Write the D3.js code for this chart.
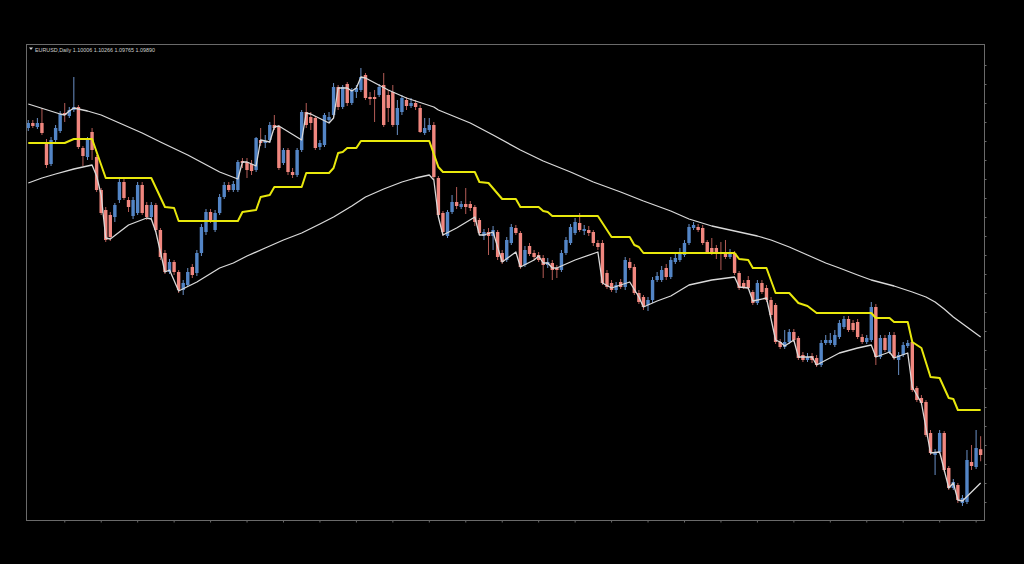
<!DOCTYPE html>
<html><head><meta charset="utf-8">
<script src="https://cdn.jsdelivr.net/npm/d3@7"></script>
<style>html,body{margin:0;padding:0;background:#000;}svg{display:block;}</style>
</head><body><svg id="c" width="1024" height="564"></svg>
<script>
const symbol = "EURUSD,Daily";
const lastQuote = ["1.10006", "1.10266", "1.09765", "1.09890"];

const open = [
1.1643,1.1653,1.1645,1.1653,1.1615,1.1571,1.1619,1.1637,1.1673,1.1667,
1.1679,
1.1685,1.1603,1.1585,1.1635,1.1585,1.1519,1.1479,1.1469,1.1465,1.1499,
1.1535,1.1499,1.1467,1.1473,1.1529,1.1489,1.1465,1.1489,1.1439,1.1393,
1.1355,1.1375,1.1355,1.1319,1.1329,1.1365,1.1353,1.1393,1.1435,1.1475,
1.1439,1.1473,1.1505,1.1529,1.1519,1.1519,1.1577,1.1575,1.1571,1.1559,
1.1619,1.1613,1.1619,1.1649,1.1645,1.1573,1.1599,1.1555,1.1549,1.1599,
1.1675,1.1665,1.1663,1.1605,1.1609,1.1659,1.1669,1.1725,1.1685,1.1731,
1.1693,1.1715,1.1719,1.1749,1.1705,1.1705,1.1709,1.1729,1.1709,1.1715,
1.1649,1.1675,1.1699,1.1687,1.1693,1.1683,1.1633,1.1639,1.1649,1.1543,
1.1473,1.1427,1.1475,1.1495,1.1485,1.1491,1.1491,1.1485,1.1459,1.1427,
1.1435,1.1427,1.1435,1.1393,1.1379,1.1413,1.1443,1.1433,1.1369,1.1407,
1.1393,1.1389,1.1383,1.1369,1.1373,1.1363,1.1359,1.1393,1.1413,1.1433,
1.1453,1.1437,1.1439,1.1435,1.1413,1.1413,1.1353,1.1333,1.1319,1.1335,
1.1325,1.1375,1.1365,1.1313,1.1305,1.1289,1.1299,1.1339,1.1339,1.1363,
1.1345,1.1375,1.1379,1.1389,1.1413,1.1443,1.1445,1.1443,1.1415,1.1403,
1.1403,1.1395,1.1395,1.1385,1.1393,1.1353,1.1333,1.1339,1.1315,1.1293,
1.1333,1.1323,1.1299,1.1289,1.1215,1.1205,1.1215,1.1235,1.1223,1.1189,
1.1179,1.1187,1.1183,1.1169,1.1213,1.1213,1.1209,1.1225,1.1245,1.1261,
1.1253,1.1255,1.1225,1.1215,1.1219,1.1285,1.1185,1.1223,1.1195,1.1229,
1.1179,1.1189,1.1207,1.1215,1.1123,1.1103,1.1095,1.1033,1.0989,1.0995,
1.1033,1.0963,1.0923,1.0929,1.0893,1.0895,1.0975,1.0965,
1.10006];
const close = [
1.1653,1.1647,1.1653,1.1633,1.1569,1.1619,1.1643,1.1671,1.1669,1.1679,
1.1685,
1.1605,1.1587,1.1619,1.1599,1.1519,1.1473,1.1419,1.1425,1.1489,1.1535,
1.1503,1.1485,1.1499,1.1529,1.1473,1.1465,1.1489,1.1439,1.1385,1.1355,
1.1375,1.1355,1.1319,1.1333,1.1355,1.1349,1.1393,1.1445,1.1475,1.1459,
1.1473,1.1505,1.1529,1.1519,1.1531,1.1575,1.1573,1.1559,1.1557,1.1623,
1.1613,1.1617,1.1649,1.1643,1.1563,1.1599,1.1555,1.1549,1.1599,1.1675,
1.1649,1.1653,1.1603,1.1613,1.1669,1.1665,1.1725,1.1685,1.1725,1.1693,
1.1719,1.1723,1.1745,1.1703,1.1701,1.1701,1.1725,1.1649,1.1683,1.1649,
1.1683,1.1703,1.1687,1.1693,1.1685,1.1635,1.1643,1.1649,1.1545,1.1469,
1.1435,1.1475,1.1495,1.1487,1.1491,1.1485,1.1483,1.1455,1.1433,1.1435,
1.1427,1.1439,1.1385,1.1375,1.1419,1.1445,1.1433,1.1365,1.1399,1.1391,
1.1385,1.1379,1.1369,1.1375,1.1359,1.1359,1.1393,1.1419,1.1445,1.1455,
1.1439,1.1441,1.1433,1.1413,1.1405,1.1333,1.1325,1.1319,1.1329,1.1325,
1.1379,1.1363,1.1313,1.1295,1.1285,1.1299,1.1339,1.1347,1.1359,1.1345,
1.1379,1.1383,1.1393,1.1413,1.1445,1.1449,1.1439,1.1413,1.1395,1.1393,
1.1395,1.1391,1.1385,1.1395,1.1353,1.1323,1.1325,1.1323,1.1293,1.1333,
1.1315,1.1299,1.1269,1.1215,1.1205,1.1215,1.1235,1.1219,1.1183,1.1179,
1.1185,1.1179,1.1169,1.1213,1.1219,1.1219,1.1229,1.1253,1.1261,1.1239,
1.1239,1.1225,1.1215,1.1223,1.1285,1.1185,1.1223,1.1199,1.1229,1.1183,
1.1189,1.1209,1.1213,1.1119,1.1099,1.1093,1.1029,1.0993,1.0995,1.1033,
1.0959,1.0923,1.0935,1.0899,1.0903,1.0979,1.0967,1.1003,
1.09890];
const high = [
1.1659,1.1659,1.1663,1.1683,1.1621,1.1625,1.1649,1.1677,1.1693,1.1685,
1.1745,
1.1689,1.1607,1.1625,1.1643,1.1589,1.1523,1.1485,1.1475,1.1493,1.1541,
1.1541,1.1505,1.1505,1.1535,1.1535,1.1495,1.1495,1.1493,1.1443,1.1399,
1.1381,1.1379,1.1359,1.1339,1.1363,1.1371,1.1399,1.1451,1.1481,1.1481,
1.1479,1.1511,1.1535,1.1535,1.1537,1.1579,1.1583,1.1583,1.1579,1.1625,
1.1643,1.1629,1.1655,1.1669,1.1649,1.1603,1.1603,1.1563,1.1603,1.1679,
1.1693,1.1675,1.1667,1.1619,1.1673,1.1675,1.1733,1.1729,1.1729,1.1735,
1.1723,1.1729,1.1763,1.1753,1.1715,1.1719,1.1731,1.1753,1.1719,1.1729,
1.1699,1.1709,1.1705,1.1703,1.1699,1.1689,1.1663,1.1663,1.1655,1.1547,
1.1477,1.1479,1.1509,1.1525,1.1497,1.1523,1.1497,1.1489,1.1463,1.1441,
1.1443,1.1447,1.1439,1.1399,1.1425,1.1451,1.1449,1.1437,1.1407,1.1413,
1.1399,1.1395,1.1389,1.1383,1.1379,1.1369,1.1399,1.1425,1.1451,1.1463,
1.1473,1.1449,1.1447,1.1439,1.1419,1.1419,1.1359,1.1339,1.1335,1.1341,
1.1385,1.1383,1.1371,1.1319,1.1309,1.1305,1.1345,1.1355,1.1367,1.1371,
1.1385,1.1395,1.1403,1.1419,1.1451,1.1455,1.1451,1.1449,1.1419,1.1423,
1.1409,1.1415,1.1419,1.1401,1.1397,1.1357,1.1339,1.1347,1.1319,1.1339,
1.1339,1.1329,1.1305,1.1293,1.1221,1.1239,1.1241,1.1241,1.1227,1.1195,
1.1193,1.1193,1.1189,1.1219,1.1229,1.1233,1.1239,1.1259,1.1267,1.1267,
1.1259,1.1261,1.1231,1.1229,1.1295,1.1291,1.1229,1.1229,1.1235,1.1235,
1.1195,1.1215,1.1219,1.1219,1.1127,1.1109,1.1099,1.1039,1.1001,1.1039,
1.1037,1.0967,1.0941,1.0933,1.0909,1.0999,1.1009,1.1039,
1.10266];
const low = [
1.1637,1.1643,1.1641,1.1629,1.1563,1.1567,1.1615,1.1633,1.1655,1.1663,
1.1675,
1.1601,1.1567,1.1579,1.1579,1.1515,1.1469,1.1415,1.1417,1.1455,1.1493,
1.1499,1.1475,1.1461,1.1469,1.1469,1.1459,1.1459,1.1435,1.1379,1.1351,
1.1351,1.1349,1.1313,1.1309,1.1325,1.1343,1.1347,1.1387,1.1429,1.1453,
1.1435,1.1469,1.1501,1.1515,1.1515,1.1515,1.1563,1.1543,1.1549,1.1555,
1.1607,1.1603,1.1613,1.1639,1.1559,1.1569,1.1549,1.1543,1.1545,1.1595,
1.1643,1.1639,1.1599,1.1599,1.1605,1.1655,1.1665,1.1679,1.1681,1.1687,
1.1689,1.1703,1.1715,1.1699,1.1689,1.1655,1.1705,1.1645,1.1655,1.1645,
1.1629,1.1669,1.1679,1.1683,1.1679,1.1633,1.1629,1.1635,1.1539,1.1465,
1.1427,1.1423,1.1471,1.1481,1.1481,1.1471,1.1477,1.1447,1.1429,1.1419,
1.1389,1.1399,1.1379,1.1371,1.1375,1.1409,1.1429,1.1361,1.1365,1.1387,
1.1379,1.1375,1.1343,1.1363,1.1339,1.1343,1.1355,1.1389,1.1409,1.1429,
1.1435,1.1429,1.1427,1.1407,1.1399,1.1329,1.1321,1.1315,1.1313,1.1321,
1.1319,1.1359,1.1309,1.1291,1.1279,1.1277,1.1293,1.1335,1.1335,1.1339,
1.1341,1.1371,1.1375,1.1385,1.1409,1.1439,1.1435,1.1409,1.1391,1.1389,
1.1381,1.1359,1.1381,1.1381,1.1349,1.1319,1.1321,1.1319,1.1289,1.1289,
1.1311,1.1295,1.1265,1.1211,1.1201,1.1201,1.1211,1.1215,1.1179,1.1175,
1.1175,1.1173,1.1165,1.1165,1.1209,1.1209,1.1205,1.1221,1.1241,1.1235,
1.1235,1.1221,1.1211,1.1211,1.1215,1.1169,1.1181,1.1195,1.1191,1.1179,
1.1149,1.1185,1.1203,1.1115,1.1095,1.1089,1.1025,1.0989,1.0949,1.0991,
1.0955,1.0919,1.0919,1.0893,1.0887,1.0891,1.0959,1.0961,
1.09765];

// indicator lines: [bar index, price]
const midLine = [
[0,1.1613],[8,1.1613],[10,1.1621],[14,1.1621],[17,1.1543],[27,1.1543],[30,1.1485],[32,1.1483],
[33,1.1457],[46,1.1457],[47,1.1475],[50,1.1479],[51,1.1505],[53,1.1509],[54,1.1525],[60,1.1525],
[61,1.1553],[66,1.1553],[67,1.1563],[68,1.1593],[69,1.1595],[70,1.1603],[72,1.1603],[73,1.1617],
[88,1.1617],[90,1.1565],[91,1.1555],[98,1.1555],[99,1.1535],[101,1.1533],[104,1.1501],[107,1.1501],
[108,1.1485],[112,1.1485],[113,1.1477],[114,1.1475],[115,1.1467],[125,1.1467],[128,1.1425],[132,1.1425],
[133,1.1409],[134,1.1405],[135,1.1393],[155,1.1393],[156,1.1381],[158,1.1379],[159,1.1363],[162,1.1363],
[164,1.1313],[167,1.1313],[169,1.1293],[171,1.1287],[173,1.1273],[185,1.1273],[186,1.1263],[189,1.1263],
[190,1.1255],[193,1.1255],[194,1.1215],[196,1.1203],[198,1.1145],[200,1.1143],[202,1.1103],[203,1.1101],
[204,1.1079],[209,1.1079]];
const upperLine = [
[0,1.1691],[7,1.1671],[8,1.1669],[9,1.1677],[10,1.1683],[13,1.1677],[16,1.1669],[20,1.1653],[25,1.1633],[29,1.1615],
[35,1.1589],[42,1.1555],[46,1.1541],[47,1.1575],[48,1.1575],[50,1.1567],[51,1.1619],[53,1.1615],
[54,1.1645],[55,1.1647],[60,1.1619],[61,1.1673],[62,1.1671],[66,1.1653],[67,1.1663],[68,1.1723],
[70,1.1723],[71,1.1717],[72,1.1723],[73,1.1745],[74,1.1743],[79,1.1719],[83,1.1703],[89,1.1685],
[90,1.1679],[97,1.1653],[102,1.1629],[108,1.1599],[113,1.1577],[119,1.1555],[124,1.1535],[130,1.1515],[135,1.1497],[141,1.1477],[145,1.1461],[150,1.1447],[156,1.1435],
[160,1.1427],[163,1.1419],[167,1.1405],[171,1.1389],[175,1.1373],[178,1.1363],[182,1.1349],[185,1.1339],[190,1.1327],[194,1.1315],[197,1.1305],[199,1.1295],[201,1.1281],[203,1.1265],[206,1.1245],[209,1.1225]];
const lowerLine = [
[0,1.1533],[3,1.1543],[6,1.1551],[10,1.1561],[14,1.1569],[15,1.1547],[16,1.1509],[17,1.1423],[18,1.1421],[22,1.1449],
[26,1.1463],[27,1.1461],[28,1.1435],[30,1.1355],[31,1.1359],[33,1.1317],[37,1.1335],[42,1.1363],
[45,1.1373],[48,1.1387],[52,1.1403],[56,1.1419],[60,1.1433],[64,1.1451],[67,1.1465],[71,1.1487],[74,1.1505],[78,1.1521],[82,1.1535],[85,1.1543],[88,1.1549],[89,1.1539],
[90,1.1465],[91,1.1429],[94,1.1443],[98,1.1465],[99,1.1429],[100,1.1429],[102,1.1435],[104,1.1375],[107,1.1395],
[108,1.1365],[111,1.1379],[112,1.1387],[113,1.1373],[114,1.1373],[115,1.1363],[116,1.1363],[120,1.1379],[125,1.1395],
[126,1.1333],[128,1.1323],[130,1.1329],[132,1.1335],[134,1.1305],[135,1.1285],[138,1.1297],[141,1.1307],[145,1.1329],[150,1.1339],
[155,1.1345],[156,1.1325],[158,1.1323],[159,1.1297],[162,1.1303],[164,1.1219],[165,1.1215],[166,1.1207],
[168,1.1219],[169,1.1185],[172,1.1185],[173,1.1169],[178,1.1193],[182,1.1203],[185,1.1209],[186,1.1185],[189,1.1195],
[190,1.1183],[193,1.1193],[194,1.1125],[196,1.1093],[198,1.0993],[200,1.0995],[202,1.0923],[203,1.0933],
[204,1.0899],[205,1.0897],[209,1.0933]];

const timeTicks = [7.9,15.9,23.9,31.9,39.9,47.9,55.9,63.9,71.9,79.9,87.9,95.9,103.9,111.9,119.9,127.9,
  135.9,143.9,151.9,159.9,167.9,175.9,183.9,191.9,199.9,207.9];
const priceTicks = [1.1769,1.1731,1.1693,1.1655,1.1617,1.1579,1.1541,1.1503,1.1465,1.1427,1.1389,1.1351,
  1.1313,1.1275,1.1237,1.1199,1.1161,1.1123,1.1085,1.1047,1.1009,1.0971,1.0933,1.0895];

const svg = d3.select("#c");
svg.append("rect").attr("width",1024).attr("height",564).attr("fill","#000");

const x = d3.scaleLinear().domain([-0.3, 209.8]).range([26.9, 984.3]);
const y = d3.scaleLinear().domain([1.0859, 1.1809]).range([520, 45]);

const bars = open.map((o,i)=>({i, o, h:high[i], l:low[i], c:close[i]}));
const UP = "#5385c6", DOWN = "#f0877f";

const g = svg.append("g");
// wicks
g.selectAll("line.w").data(bars).join("line").attr("class","w")
  .attr("x1", d=>x(d.i)).attr("x2", d=>x(d.i))
  .attr("y1", d=>y(d.h)).attr("y2", d=>y(d.l))
  .attr("stroke", d=> d.c>=d.o ? "#6a90c6" : "#b45c56").attr("stroke-width",1);
// bodies
g.selectAll("rect.b").data(bars).join("rect").attr("class","b")
  .attr("x", d=>x(d.i)-1.7)
  .attr("y", d=>y(Math.max(d.o,d.c)))
  .attr("width", 3.4)
  .attr("height", d=>Math.max(1, Math.abs(y(d.o)-y(d.c))))
  .attr("fill", d=> d.c>=d.o ? UP : DOWN);

const line = d3.line().x(d=>x(d[0])).y(d=>y(d[1]));

svg.append("path").attr("d", line(upperLine)).attr("fill","none")
  .attr("stroke","#d9d9d9").attr("stroke-width",1.3).attr("stroke-linejoin","round");
svg.append("path").attr("d", line(lowerLine)).attr("fill","none")
  .attr("stroke","#d9d9d9").attr("stroke-width",1.3).attr("stroke-linejoin","round");
svg.append("path").attr("d", line(midLine)).attr("fill","none")
  .attr("stroke","#e8e80c").attr("stroke-width",2).attr("stroke-linejoin","round");

// frame
svg.append("rect").attr("x",26.5).attr("y",44.5).attr("width",958).attr("height",476)
  .attr("fill","none").attr("stroke","#6a6a6a").attr("stroke-width",1);

// ticks
const bAxis = svg.append("g").attr("transform","translate(0,520.5)")
  .call(d3.axisBottom(x).tickValues(timeTicks).tickSize(2).tickFormat(""));
bAxis.select(".domain").remove();
bAxis.selectAll("line").attr("stroke","#6a6a6a");
const rAxis = svg.append("g").attr("transform","translate(984.5,0)")
  .call(d3.axisRight(y).tickValues(priceTicks).tickSize(2).tickFormat(""));
rAxis.select(".domain").remove();
rAxis.selectAll("line").attr("stroke","#6a6a6a");

// title
svg.append("path").attr("d","M29,47.5 L33,47.5 L31,50 Z").attr("fill","#d0d0d0");
svg.append("text").attr("x",35).attr("y",51.5)
  .attr("font-family","Liberation Sans, Arial, sans-serif").attr("font-size",5.8)
  .attr("fill","#cfcfcf").attr("textLength",120).attr("lengthAdjust","spacingAndGlyphs")
  .text(symbol + "  " + lastQuote.join(" "));
</script>
</body></html>
